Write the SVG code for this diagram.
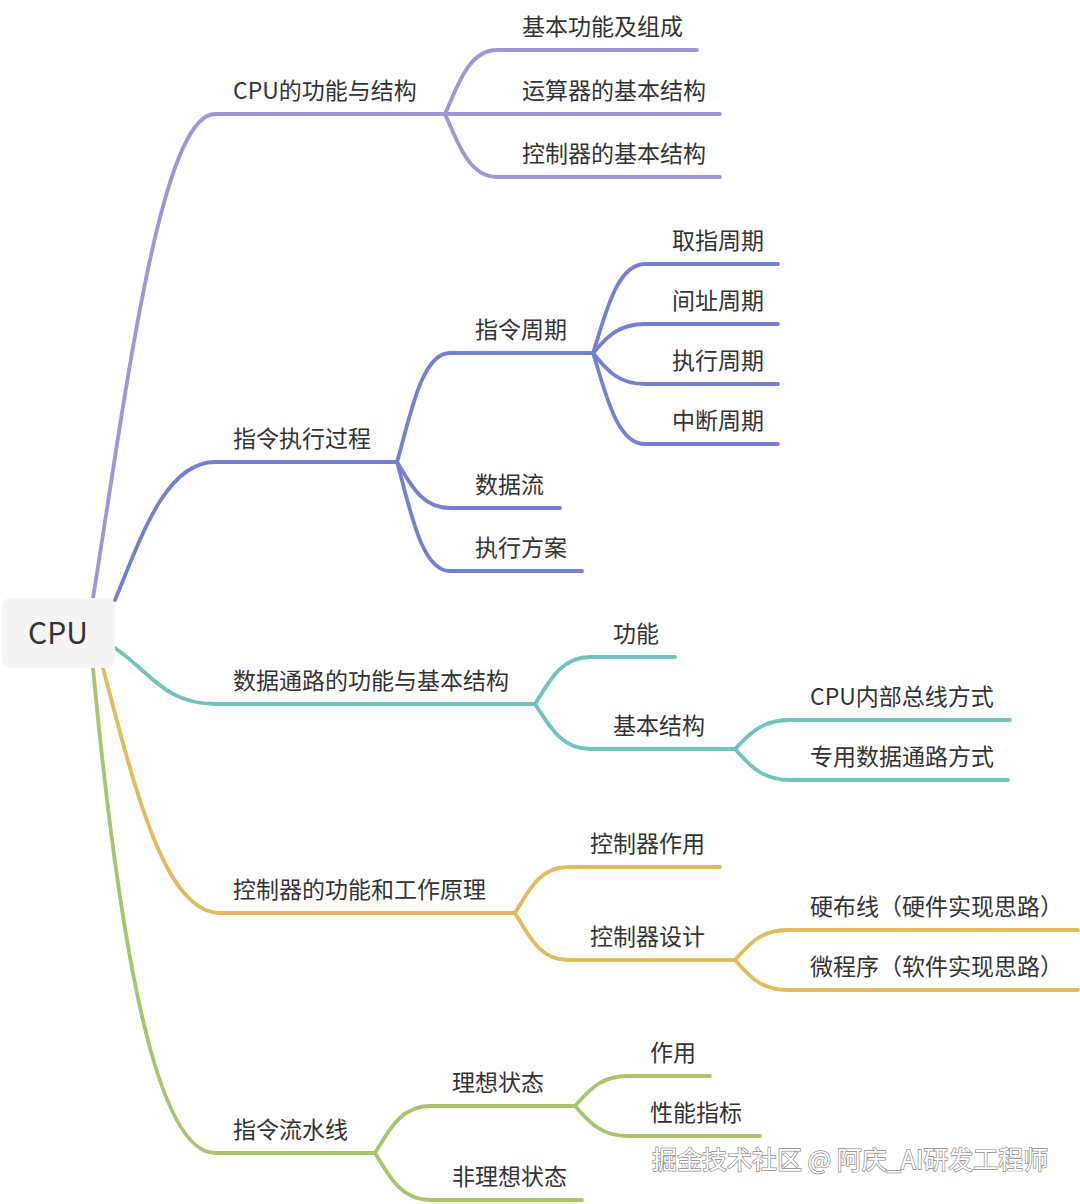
<svg xmlns="http://www.w3.org/2000/svg" width="1080" height="1204" viewBox="0 0 1080 1204">
<style>
  .t { font-family: "Noto Sans CJK SC", "Noto Sans", sans-serif; font-size: 23px; fill: #333333; }
  .root { font-family: "Noto Sans CJK SC", "Noto Sans", sans-serif; font-size: 30px; fill: #333333; }
  .wm { font-family: "Noto Sans CJK SC", "Noto Sans", sans-serif; font-size: 25px; fill: #ffffff; stroke: #8a8a8a; stroke-width: 1.4; paint-order: stroke; }
  .c { fill: none; stroke-width: 3.8; stroke-linecap: round; stroke-linejoin: round; }
  .b1 { stroke: #a195d8; }
  .b2 { stroke: #7381d0; }
  .b3 { stroke: #70c2bc; }
  .b4 { stroke: #e1bb5c; }
  .b5 { stroke: #a9c46c; }
</style>
<rect width="1080" height="1204" fill="#ffffff"/>
<g id="connectors">
  <path class="c b1" d="M93 598 C125 400 160 114 215 114 H445"/>
  <path class="c b1" d="M445 114 C457 88 468 50 497 50 H697"/>
  <path class="c b1" d="M445 114 H720"/>
  <path class="c b1" d="M445 114 C457 140 468 177 497 177 H720"/>

  <path class="c b2" d="M115 600 C140 540 165 462 215 462 H397"/>
  <path class="c b2" d="M397 462 C410 418 421 353 450 353 H593"/>
  <path class="c b2" d="M397 462 C410 483 421 508 450 508 H560"/>
  <path class="c b2" d="M397 462 C410 508 421 571 450 571 H582"/>
  <path class="c b2" d="M593 353 C605 317 616 264 645 264 H778"/>
  <path class="c b2" d="M593 353 C605 340 616 324 645 324 H778"/>
  <path class="c b2" d="M593 353 C605 367 616 384 645 384 H778"/>
  <path class="c b2" d="M593 353 C605 390 616 444 645 444 H778"/>

  <path class="c b3" d="M115 648 C150 672 165 704 215 704 H535"/>
  <path class="c b3" d="M535 704 C548 684 560 657 590 657 H675"/>
  <path class="c b3" d="M535 704 C548 723 560 749 590 749 H735"/>
  <path class="c b3" d="M735 749 C748 736 760 720 790 720 H1010"/>
  <path class="c b3" d="M735 749 C748 763 760 780 790 780 H1008"/>

  <path class="c b4" d="M103 668 C135 790 165 913 220 913 H515"/>
  <path class="c b4" d="M515 913 C528 892 539 867 568 867 H720"/>
  <path class="c b4" d="M515 913 C528 934 539 960 568 960 H735"/>
  <path class="c b4" d="M735 960 C748 946 759 930 788 930 H1078"/>
  <path class="c b4" d="M735 960 C748 974 759 990 788 990 H1078"/>

  <path class="c b5" d="M93 668 C115 900 150 1153 215 1153 H375"/>
  <path class="c b5" d="M375 1153 C388 1132 400 1106 430 1106 H575"/>
  <path class="c b5" d="M375 1153 C388 1174 400 1200 430 1200 H582"/>
  <path class="c b5" d="M575 1106 C588 1092 599 1076 628 1076 H710"/>
  <path class="c b5" d="M575 1106 C588 1120 599 1136 628 1136 H760"/>
</g>
<g id="n-root"><rect x="2" y="598" width="113" height="70" rx="8" fill="#f5f5f5"/><text class="root" x="58" y="644" text-anchor="middle">CPU</text></g>
<g id="n-b1"><text class="t" x="233" y="99">CPU的功能与结构</text></g>
<g id="n-b1-1"><text class="t" x="522" y="35">基本功能及组成</text></g>
<g id="n-b1-2"><text class="t" x="522" y="99">运算器的基本结构</text></g>
<g id="n-b1-3"><text class="t" x="522" y="162">控制器的基本结构</text></g>
<g id="n-b2"><text class="t" x="233" y="447">指令执行过程</text></g>
<g id="n-b2-1"><text class="t" x="475" y="338">指令周期</text></g>
<g id="n-b2-1-1"><text class="t" x="672" y="249">取指周期</text></g>
<g id="n-b2-1-2"><text class="t" x="672" y="309">间址周期</text></g>
<g id="n-b2-1-3"><text class="t" x="672" y="369">执行周期</text></g>
<g id="n-b2-1-4"><text class="t" x="672" y="429">中断周期</text></g>
<g id="n-b2-2"><text class="t" x="475" y="493">数据流</text></g>
<g id="n-b2-3"><text class="t" x="475" y="556">执行方案</text></g>
<g id="n-b3"><text class="t" x="233" y="689">数据通路的功能与基本结构</text></g>
<g id="n-b3-1"><text class="t" x="613" y="642">功能</text></g>
<g id="n-b3-2"><text class="t" x="613" y="734">基本结构</text></g>
<g id="n-b3-2-1"><text class="t" x="810" y="705">CPU内部总线方式</text></g>
<g id="n-b3-2-2"><text class="t" x="810" y="765">专用数据通路方式</text></g>
<g id="n-b4"><text class="t" x="233" y="898">控制器的功能和工作原理</text></g>
<g id="n-b4-1"><text class="t" x="590" y="852">控制器作用</text></g>
<g id="n-b4-2"><text class="t" x="590" y="945">控制器设计</text></g>
<g id="n-b4-2-1"><text class="t" x="810" y="915">硬布线（硬件实现思路）</text></g>
<g id="n-b4-2-2"><text class="t" x="810" y="975">微程序（软件实现思路）</text></g>
<g id="n-b5"><text class="t" x="233" y="1138">指令流水线</text></g>
<g id="n-b5-1"><text class="t" x="452" y="1091">理想状态</text></g>
<g id="n-b5-1-1"><text class="t" x="650" y="1061">作用</text></g>
<g id="n-b5-1-2"><text class="t" x="650" y="1121">性能指标</text></g>
<g id="n-b5-2"><text class="t" x="452" y="1185">非理想状态</text></g>
<text class="wm" x="652" y="1169">掘金技术社区 @ 阿庆_AI研发工程师</text>
</svg>
